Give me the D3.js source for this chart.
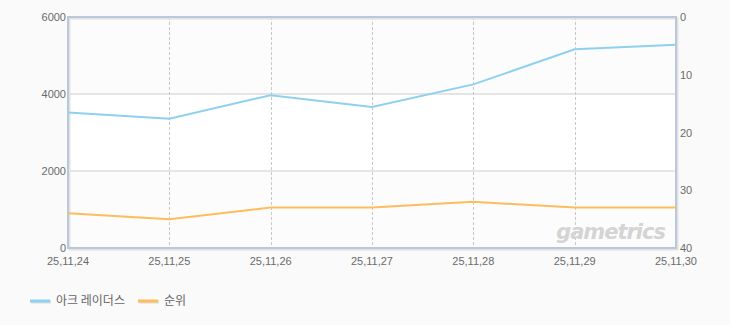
<!DOCTYPE html>
<html>
<head>
<meta charset="utf-8">
<script src="https://cdn.jsdelivr.net/npm/d3@7"></script>
<style>
  body { margin: 0; background: #fafafa; }
  svg { display: block; font-family: "Liberation Sans", Arial, sans-serif; }
</style>
</head>
<body>
<svg id="chart" width="730" height="325"></svg>
<script>
const dates = ["25,11,24", "25,11,25", "25,11,26", "25,11,27", "25,11,28", "25,11,29", "25,11,30"];
const scoreValues = [3520, 3360, 3970, 3660, 4250, 5160, 5280];
const rankValues = [34, 35, 33, 33, 32, 33, 33];
const leftTicks = [0, 2000, 4000, 6000];
const rightTicks = [0, 10, 20, 30, 40];
const seriesNames = ["아크 레이더스", "순위"];
const seriesColors = ["#8fd0f0", "#fdbd5c"];

const margin = { top: 17, right: 54, bottom: 77, left: 68 };
const width = 730, height = 325;
const iw = width - margin.left - margin.right;
const ih = height - margin.top - margin.bottom;

const svg = d3.select("#chart");
const g = svg.append("g").attr("transform", `translate(${margin.left},${margin.top})`);

const x = d3.scalePoint().domain(dates).range([0, iw]);
const yLeft = d3.scaleLinear().domain([0, 6000]).range([ih, 0]);
const yRight = d3.scaleLinear().domain([0, 40]).range([0, ih]);

// alternating bands
for (let i = 0; i < leftTicks.length - 1; i++) {
  g.append("rect")
    .attr("x", 0).attr("width", iw)
    .attr("y", yLeft(leftTicks[i + 1]))
    .attr("height", yLeft(leftTicks[i]) - yLeft(leftTicks[i + 1]))
    .attr("fill", i % 2 === 0 ? "#fcfcfc" : "#ffffff");
}

// horizontal grid
g.selectAll(".hgrid")
  .data(leftTicks.slice(1, -1))
  .join("line")
  .attr("x1", 0).attr("x2", iw)
  .attr("y1", d => yLeft(d)).attr("y2", d => yLeft(d))
  .attr("stroke", "#cccccc").attr("stroke-width", 1);

// vertical dashed grid
g.selectAll(".vgrid")
  .data(dates.slice(1, -1))
  .join("line")
  .attr("x1", d => Math.round(x(d)) + 0.5).attr("x2", d => Math.round(x(d)) + 0.5)
  .attr("y1", 0).attr("y2", ih)
  .attr("stroke", "#c8c8c8").attr("stroke-dasharray", "3,2");

// watermark
g.append("text")
  .attr("x", iw - 11).attr("y", ih - 9)
  .attr("text-anchor", "end")
  .attr("font-size", 21).attr("font-style", "italic").attr("font-weight", "bold")
  .attr("font-family", "Verdana, 'DejaVu Sans', sans-serif")
  .attr("fill", "#d4d4d4")
  .attr("letter-spacing", -1)
  .text("gametrics");

// frame shadow + frame
g.append("rect")
  .attr("x", 1.5).attr("y", 1.5).attr("width", iw).attr("height", ih)
  .attr("fill", "none").attr("stroke", "#e2e2e2").attr("stroke-width", 2);
g.append("rect")
  .attr("x", 0).attr("y", 0).attr("width", iw).attr("height", ih)
  .attr("fill", "none").attr("stroke", "#b9c9db").attr("stroke-width", 2);

// lines
const lineScore = d3.line().x((d, i) => x(dates[i])).y(d => yLeft(d));
const lineRank = d3.line().x((d, i) => x(dates[i])).y(d => yRight(d));

g.append("path").datum(scoreValues)
  .attr("d", lineScore).attr("fill", "none")
  .attr("stroke", seriesColors[0]).attr("stroke-width", 2);
g.append("path").datum(rankValues)
  .attr("d", lineRank).attr("fill", "none")
  .attr("stroke", seriesColors[1]).attr("stroke-width", 2);

// axes labels
const labelColor = "#6a6a6a";
g.selectAll(".ltick").data(leftTicks).join("text")
  .attr("x", -2).attr("y", d => yLeft(d) + 4)
  .attr("text-anchor", "end").attr("font-size", 11).attr("fill", labelColor)
  .text(d => d);

g.selectAll(".rtick").data(rightTicks).join("text")
  .attr("x", iw + 4).attr("y", d => yRight(d) + 4)
  .attr("text-anchor", "start").attr("font-size", 11).attr("fill", labelColor)
  .text(d => d);

g.selectAll(".xtick").data(dates).join("text")
  .attr("x", d => x(d)).attr("y", ih + 17)
  .attr("text-anchor", "middle").attr("font-size", 11).attr("fill", labelColor)
  .text(d => d);

// legend
const legend = svg.append("g").attr("transform", "translate(30,301)");
let lx = 0;
seriesNames.forEach((name, i) => {
  const item = legend.append("g").attr("transform", `translate(${lx},0)`);
  item.append("line").attr("x1", 1).attr("x2", 21).attr("y1", 1).attr("y2", 1)
    .attr("stroke", "#dddddd").attr("stroke-width", 3);
  item.append("line").attr("x1", 0).attr("x2", 20).attr("y1", 0).attr("y2", 0)
    .attr("stroke", seriesColors[i]).attr("stroke-width", 3);
  const t = item.append("text").attr("x", 26).attr("y", 4)
    .attr("font-size", 12).attr("fill", "#666666")
    .attr("font-family", "'Noto Sans CJK KR', sans-serif")
    .text(name);
  lx += 26 + t.node().getComputedTextLength() + 13;
});
</script>
</body>
</html>
